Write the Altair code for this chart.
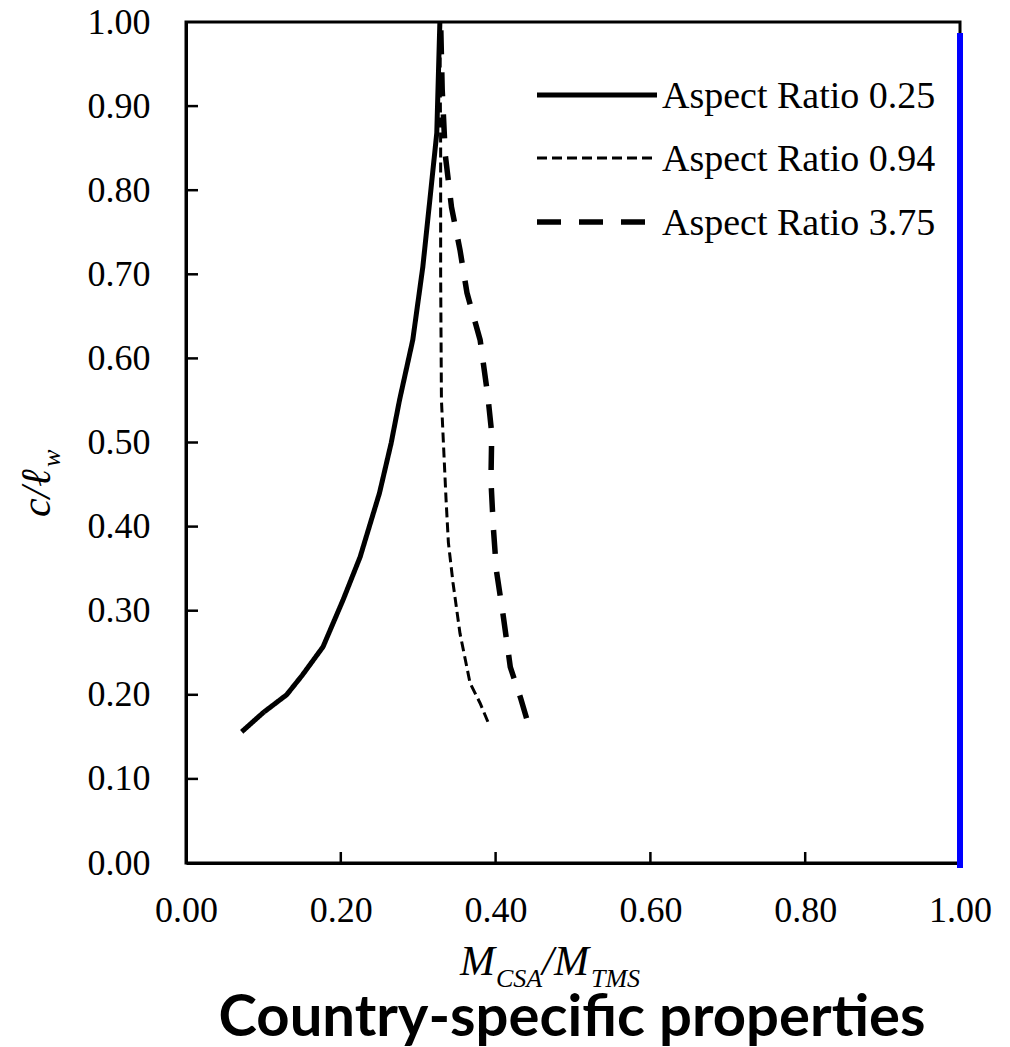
import altair as alt
import pandas as pd

# ---- data ----
series_names = ["Aspect Ratio 0.25", "Aspect Ratio 0.94", "Aspect Ratio 3.75"]

ar025_x = [0.072, 0.100, 0.130, 0.150, 0.177, 0.203, 0.225, 0.250, 0.265, 0.276, 0.293, 0.306, 0.315, 0.324, 0.328]
ar025_y = [0.156, 0.179, 0.200, 0.223, 0.257, 0.313, 0.364, 0.440, 0.499, 0.551, 0.622, 0.709, 0.788, 0.868, 1.000]

ar094_x = [0.390, 0.380, 0.367, 0.354, 0.345, 0.339, 0.336, 0.332, 0.330, 0.329, 0.329, 0.328]
ar094_y = [0.168, 0.190, 0.214, 0.273, 0.333, 0.381, 0.432, 0.511, 0.551, 0.700, 0.850, 1.000]

ar375_x = [0.440, 0.432, 0.419, 0.410, 0.401, 0.397, 0.394, 0.395, 0.390, 0.380, 0.363, 0.354, 0.343, 0.335, 0.331, 0.329]
ar375_y = [0.172, 0.197, 0.233, 0.293, 0.348, 0.400, 0.455, 0.511, 0.555, 0.622, 0.678, 0.729, 0.780, 0.842, 0.920, 1.000]

x_ticks = [0.0, 0.2, 0.4, 0.6, 0.8, 1.0]
y_ticks = [0.0, 0.1, 0.2, 0.3, 0.4, 0.5, 0.6, 0.7, 0.8, 0.9, 1.0]
x_inner_ticks = [0.2, 0.4, 0.6, 0.8]
y_inner_ticks = [0.1, 0.2, 0.3, 0.4, 0.5, 0.6, 0.7, 0.8, 0.9]

blue_x = [1.0]
blue_y_top = [0.987]
blue_y_bottom = [-0.006]

title_text = "Country-specific properties"

# ---- styles ----
styles = [
    dict(strokeWidth=5, strokeDash=[1, 0]),
    dict(strokeWidth=3, strokeDash=[10, 5]),
    dict(strokeWidth=5.5, strokeDash=[24, 18]),
]

W, H = 774, 841
SERIF = "Liberation Serif"
ox, oy = 186, 22

xscale = alt.Scale(domain=[0, 1], nice=False, zero=False)
yscale = alt.Scale(domain=[0, 1], nice=False, zero=False)

layers = []
for k, (name, xs, ys) in enumerate(zip(series_names, [ar025_x, ar094_x, ar375_x],
                                      [ar025_y, ar094_y, ar375_y])):
    d = pd.DataFrame({"i": list(range(len(xs))), "x": xs, "y": ys, "series": name})
    layers.append(
        alt.Chart(d).mark_line(color="black", strokeCap="butt", **styles[k]).encode(
            x=alt.X("x:Q", scale=xscale,
                    axis=alt.Axis(values=x_ticks, format=".2f", title=None, labelPadding=30)),
            y=alt.Y("y:Q", scale=yscale,
                    axis=alt.Axis(values=y_ticks, format=".2f", title=None, labelPadding=36)),
            order=alt.Order("i:Q"),
        )
    )

xt = alt.Chart(pd.DataFrame({"v": x_inner_ticks})).mark_rule(color="black", strokeWidth=2.5).encode(
    x=alt.X("v:Q", scale=xscale), y=alt.value(H), y2=alt.value(H - 11))
yt = alt.Chart(pd.DataFrame({"v": y_inner_ticks})).mark_rule(color="black", strokeWidth=2.5).encode(
    y=alt.Y("v:Q", scale=yscale), x=alt.value(0), x2=alt.value(12))

blue = alt.Chart(pd.DataFrame({"x": blue_x, "y": blue_y_top, "y2": blue_y_bottom})).mark_rule(
    color="#0000FF", strokeWidth=6).encode(
    x=alt.X("x:Q", scale=xscale), y=alt.Y("y:Q", scale=yscale), y2="y2:Q")


def txt(t, x, y, size, italic=True, font=SERIF, angle=0, weight="normal", align="left"):
    kw = dict(text=t, font=font, fontSize=size, align=align, baseline="alphabetic",
              color="black", fontWeight=weight)
    if italic:
        kw["fontStyle"] = "italic"
    if angle:
        kw["angle"] = angle
    return alt.Chart(pd.DataFrame({"a": [0]})).mark_text(**kw).encode(
        x=alt.value(x), y=alt.value(y))


# ---- legend (drawn as marks, top right) ----
legend_rows_y = [95, 158, 222]
legend = []
for k, name in enumerate(series_names):
    ly = legend_rows_y[k] - oy
    legend.append(
        alt.Chart(pd.DataFrame({"a": [0]})).mark_rule(color="black", strokeCap="butt",
                                                    **styles[k]).encode(
            x=alt.value(537 - ox), x2=alt.value(657 - ox), y=alt.value(ly))
    )
    legend.append(txt(name, 662 - ox, ly + 13, 38, italic=False))

xtitle = [
    txt("M", 460 - ox, 975 - oy, 42),
    txt("CSA", 496 - ox, 987 - oy, 26),
    txt("/", 542 - ox, 975 - oy, 42),
    txt("M", 554 - ox, 975 - oy, 42),
    txt("TMS", 591 - ox, 987 - oy, 26),
]
ytitle = [
    txt("c/\u2113", 50 - ox, 517 - oy, 42, angle=270),
    txt("w", 60 - ox, 467 - oy, 26, angle=270),
]
main_title = txt(title_text, 572 - ox, 1036 - oy, 58, italic=False, font="Lato",
                 weight="bold", align="center")

chart = alt.layer(*layers, xt, yt, blue, *legend, *xtitle, *ytitle, main_title).properties(
    width=W, height=H,
    autosize=alt.AutoSizeParams(type="none"),
    padding={"left": 178, "top": 14, "right": 40, "bottom": 185},
).configure_view(stroke="black", strokeWidth=3).configure_axis(
    labelFont=SERIF, labelFontSize=36, labelColor="black",
    domainColor="black", domainWidth=3, ticks=False, grid=False,
).configure_axisX(labelFlush=False)

chart.save("out.html", embed_options={"renderer": "svg", "actions": False})
